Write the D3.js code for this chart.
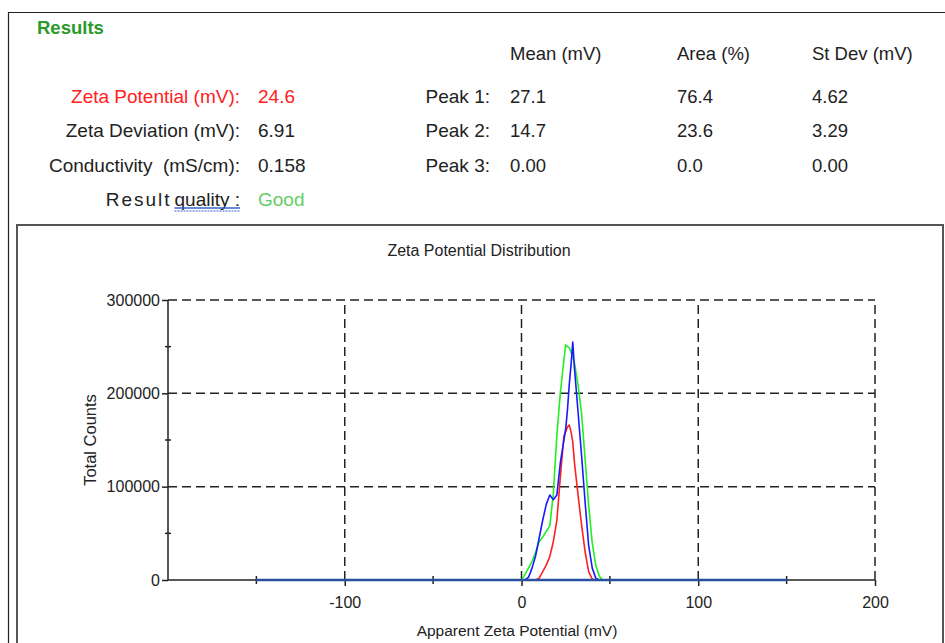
<!DOCTYPE html>
<html lang="en">
  <head>
    <meta charset="UTF-8" />
    <title>Zeta Potential Results</title>
    <script src="https://d3js.org/d3.v7.min.js"></script>
    <style>
      body {
        margin: 0;
        background: #fff;
        font-family: "Liberation Sans", Arial, sans-serif;
      }
      svg text {
        font-family: "Liberation Sans", Arial, sans-serif;
        white-space: pre;
      }
    </style>
  </head>
  <body>
    <div class="chart"></div>
  </body>

  <script>
    // apparent zeta potential (mV) sampled values
    var zetaX = [-150, 0, 2, 4, 6, 8, 10, 12, 14, 16, 18, 20, 22, 24, 25, 26, 27, 28, 29, 30, 32, 34, 36, 38, 40, 42, 44, 46, 48, 150];
    // total counts (thousands) for the three runs
    var countsGreen = [0, 0, 6, 13, 20, 30, 41, 46, 52, 58, 92, 155, 201, 236, 252, 250, 249, 244, 239, 232, 209, 178, 129, 80, 40, 16, 4, 0, 0, 0];
    var countsRed = [0, 0, 0, 0, 0, 0, 2, 9, 16, 25, 41, 64, 111, 154, 159, 164, 166, 159, 148, 125, 91, 59, 30, 9, 1, 0, 0, 0, 0, 0];
    var countsBlue = [0, 0, 0, 3, 13, 26, 45, 64, 81, 91, 86, 91, 126, 150, 162, 182, 209, 230, 255, 226, 180, 133, 83, 37, 13, 2, 0, 0, 0, 0];

    var xMajor = [-100, 0, 100, 200];
    var xMinor = [-150, -50, 50, 150];
    var yMajor = [0, 100000, 200000, 300000];
    var yMinor = [50000, 150000, 250000];

    var summaryLabels = ["Zeta Potential (mV):", "Zeta Deviation (mV):", "Conductivity\u00a0\u00a0(mS/cm):"];
    var summaryValues = ["24.6", "6.91", "0.158", "Good"];
    var peakHeaders = ["Mean (mV)", "Area (%)", "St Dev (mV)"];
    var peakNames = ["Peak 1:", "Peak 2:", "Peak 3:"];
    var peakMean = ["27.1", "14.7", "0.00"];
    var peakArea = ["76.4", "23.6", "0.0"];
    var peakStdev = ["4.62", "3.29", "0.00"];

    var W = 945, H = 643;
    var ink = "#222";
    var svg = d3.select(".chart").append("svg").attr("width", W).attr("height", H);

    // outer panel border
    svg.append("path")
      .attr("d", "M8.5," + H + " V12.5 H" + (W + 2))
      .attr("fill", "none").attr("stroke", ink).attr("stroke-width", 1.2);

    // results header
    svg.append("text").attr("x", 37).attr("y", 34)
      .attr("fill", "#2a9a2a").attr("font-size", 18.5).attr("font-weight", "bold")
      .text("Results");

    var fs = 19;
    var rowY = [103, 137, 172, 206];
    summaryLabels.forEach(function (t, i) {
      svg.append("text").attr("x", 240).attr("y", rowY[i])
        .attr("text-anchor", "end").attr("font-size", fs)
        .attr("fill", i === 0 ? "#ff2020" : ink).text(t);
    });
    summaryValues.forEach(function (t, i) {
      svg.append("text").attr("x", 258).attr("y", rowY[i])
        .attr("font-size", fs)
        .attr("fill", i === 0 ? "#ff2020" : i === 3 ? "#66cc66" : ink)
        .text(t);
    });
    // "Result quality :" with the spell-check underline
    var q = svg.append("text").attr("x", 240).attr("y", rowY[3])
      .attr("text-anchor", "end").attr("font-size", fs).attr("fill", ink).text("quality :");
    var qb = q.node().getBBox();
    svg.append("text").attr("x", qb.x - 3).attr("y", rowY[3])
      .attr("text-anchor", "end").attr("font-size", fs).attr("fill", ink)
      .attr("letter-spacing", 2).text("Result");
    svg.append("path").attr("d", "M" + qb.x + "," + (rowY[3] + 2) + " H240")
      .attr("stroke", "#3366cc").attr("stroke-width", 1.3);
    svg.append("path").attr("d", "M" + qb.x + "," + (rowY[3] + 5) + " H240")
      .attr("stroke", "#3366cc").attr("stroke-width", 1).attr("stroke-dasharray", "2,1");

    var colX = [510, 677, 812];
    peakHeaders.forEach(function (t, i) {
      svg.append("text").attr("x", colX[i]).attr("y", 60).attr("font-size", 18.5).attr("fill", ink).text(t);
    });
    peakNames.forEach(function (t, i) {
      svg.append("text").attr("x", 490).attr("y", rowY[i]).attr("text-anchor", "end")
        .attr("font-size", fs).attr("fill", ink).text(t);
      [peakMean, peakArea, peakStdev].forEach(function (arr, j) {
        svg.append("text").attr("x", colX[j]).attr("y", rowY[i])
          .attr("font-size", 18.5).attr("fill", ink).text(arr[i]);
      });
    });

    // chart frame
    svg.append("path")
      .attr("d", "M17," + H + " V225 H943 V" + H)
      .attr("fill", "none").attr("stroke", "#555").attr("stroke-width", 2);

    svg.append("text").attr("x", 479).attr("y", 256).attr("text-anchor", "middle")
      .attr("font-size", 16).attr("fill", ink).text("Zeta Potential Distribution");

    var xScale = d3.scaleLinear().domain([-200, 200]).range([168, 875]);
    var yScale = d3.scaleLinear().domain([0, 300000]).range([580, 300]);

    var grid = svg.append("g").attr("stroke", ink).attr("stroke-width", 1.5).attr("stroke-dasharray", "9,5");
    yMajor.slice(1).forEach(function (v) {
      grid.append("line").attr("x1", xScale(-200)).attr("x2", xScale(200))
        .attr("y1", yScale(v)).attr("y2", yScale(v));
    });
    xMajor.forEach(function (v) {
      grid.append("line").attr("x1", xScale(v)).attr("x2", xScale(v))
        .attr("y1", yScale(0)).attr("y2", yScale(300000));
    });

    // axes
    var yAxis = d3.axisLeft(yScale).tickValues(yMajor).tickSize(6).tickPadding(2).tickFormat(d3.format("d"));
    var gy = svg.append("g").attr("transform", "translate(" + xScale(-200) + ",0)").call(yAxis);
    var xAxis = d3.axisBottom(xScale).tickValues(xMajor).tickSize(6).tickPadding(11).tickFormat(function (d) { return d; });
    var gx = svg.append("g").attr("transform", "translate(0," + yScale(0) + ")").call(xAxis);
    [gx, gy].forEach(function (g) {
      g.select(".domain").attr("stroke", ink).attr("stroke-width", 1.5);
      g.selectAll(".tick line").attr("stroke", ink).attr("stroke-width", 1.5);
      g.selectAll(".tick text").attr("font-size", 16).attr("fill", ink)
        .style("font-family", "'Liberation Sans', Arial, sans-serif");
    });
    gy.select(".domain").attr("d", "M0," + yScale(0) + "V" + yScale(300000));
    gx.select(".domain").attr("d", "M" + xScale(-200) + ",0H" + xScale(200));
    gx.selectAll(".tick line").attr("y1", 0);

    var minor = svg.append("g").attr("stroke", ink).attr("stroke-width", 1.5);
    yMinor.forEach(function (v) {
      minor.append("line").attr("x1", xScale(-200) - 3).attr("x2", xScale(-200) + 3)
        .attr("y1", yScale(v)).attr("y2", yScale(v));
    });
    xMinor.forEach(function (v) {
      minor.append("line").attr("x1", xScale(v)).attr("x2", xScale(v))
        .attr("y1", yScale(0) - 4).attr("y2", yScale(0) + 4);
    });

    svg.append("text").attr("transform", "translate(96,440) rotate(-90)")
      .attr("text-anchor", "middle").attr("font-size", 16.5).attr("fill", ink).text("Total Counts");
    svg.append("text").attr("x", 517).attr("y", 636).attr("text-anchor", "middle")
      .attr("font-size", 15.5).attr("fill", ink).text("Apparent Zeta Potential (mV)");

    // distribution curves
    var series = [
      { values: countsGreen, color: "#22ee22" },
      { values: countsRed, color: "#ff2020" },
      { values: countsBlue, color: "#1a1aff" }
    ];
    var line = d3.line()
      .x(function (d) { return xScale(d[0]); })
      .y(function (d) { return yScale(d[1] * 1000); });
    series.forEach(function (s) {
      svg.append("path")
        .datum(zetaX.map(function (x, i) { return [x, s.values[i]]; }))
        .attr("fill", "none")
        .attr("stroke", s.color)
        .attr("stroke-width", 1.6)
        .attr("stroke-linejoin", "round")
        .attr("d", line);
    });
    // baseline looks darker where the curves overlap the axis
    svg.append("line").attr("x1", xScale(-150)).attr("x2", xScale(150))
      .attr("y1", yScale(0)).attr("y2", yScale(0))
      .attr("stroke", "#2a4fa0").attr("stroke-width", 2.4);
  </script>
</html>
